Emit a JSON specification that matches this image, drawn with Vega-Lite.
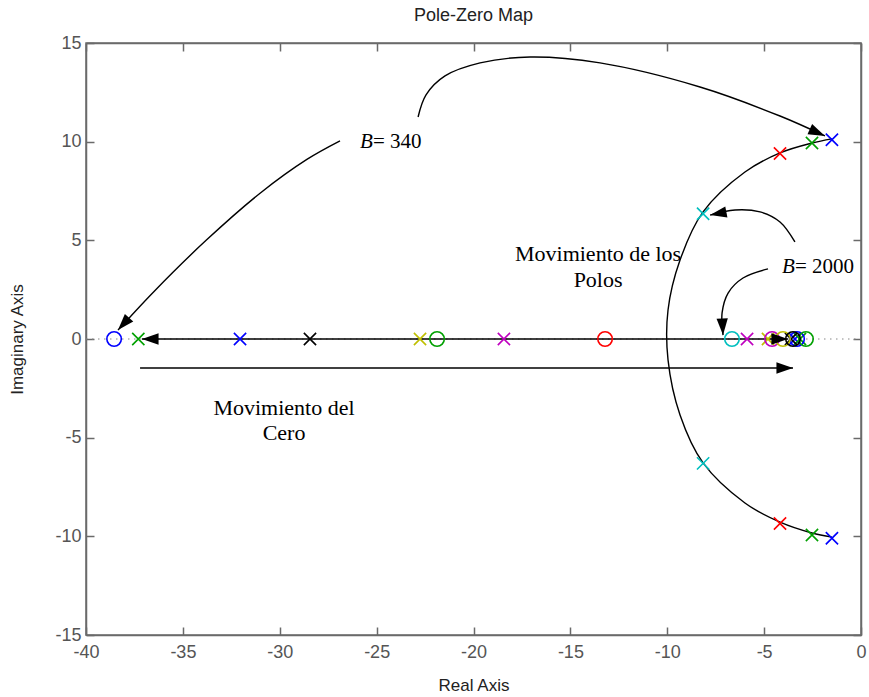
{
  "$schema": "https://vega.github.io/schema/vega-lite/v6.json",
  "width": 775,
  "height": 592,
  "autosize": "none",
  "padding": {"left": 86, "top": 43, "right": 8, "bottom": 62},
  "background": "white",
  "title": {"text": "Pole-Zero Map", "font": "Liberation Sans", "fontSize": 18, "fontWeight": "normal", "color": "#222", "anchor": "middle", "offset": 9},
  "config": {
    "view": {"stroke": "#6a6a6a", "strokeWidth": 1.5},
    "axis": {
      "domainColor": "#6a6a6a", "domainWidth": 1.5, "tickColor": "#6a6a6a", "tickWidth": 1.5, "tickSize": -8,
      "labelFont": "Liberation Sans", "labelFontSize": 18, "labelColor": "#555",
      "titleFont": "Liberation Sans", "titleFontSize": 17, "titleFontWeight": "normal", "titleColor": "#222",
      "grid": false, "labelFlush": false, "labelOverlap": false, "labelExpr": "'' + datum.value"
    }
  },
  "datasets": {
    "markers": [
      {"re": -1.5, "im": 10.1, "kind": "pole", "c": "blue"},
      {"re": -1.5, "im": -10.1, "kind": "pole", "c": "blue"},
      {"re": -32.05, "im": 0, "kind": "pole", "c": "blue"},
      {"re": -3.41, "im": 0, "kind": "pole", "c": "blue"},
      {"re": -2.53, "im": 9.93, "kind": "pole", "c": "green"},
      {"re": -2.53, "im": -9.93, "kind": "pole", "c": "green"},
      {"re": -37.3, "im": 0, "kind": "pole", "c": "green"},
      {"re": -3.15, "im": 0, "kind": "pole", "c": "green"},
      {"re": -4.18, "im": 9.4, "kind": "pole", "c": "red"},
      {"re": -4.18, "im": -9.35, "kind": "pole", "c": "red"},
      {"re": -8.15, "im": 6.35, "kind": "pole", "c": "cyan"},
      {"re": -8.15, "im": -6.3, "kind": "pole", "c": "cyan"},
      {"re": -28.44, "im": 0, "kind": "pole", "c": "black"},
      {"re": -3.61, "im": 0, "kind": "pole", "c": "black"},
      {"re": -22.76, "im": 0, "kind": "pole", "c": "yellow"},
      {"re": -4.8, "im": 0, "kind": "pole", "c": "yellow"},
      {"re": -18.43, "im": 0, "kind": "pole", "c": "magenta"},
      {"re": -5.88, "im": 0, "kind": "pole", "c": "magenta"},
      {"re": -38.55, "im": 0, "kind": "zero", "c": "blue"},
      {"re": -3.3, "im": 0, "kind": "zero", "c": "blue"},
      {"re": -21.88, "im": 0, "kind": "zero", "c": "green"},
      {"re": -2.84, "im": 0, "kind": "zero", "c": "green"},
      {"re": -13.21, "im": 0, "kind": "zero", "c": "red"},
      {"re": -6.66, "im": 0, "kind": "zero", "c": "cyan"},
      {"re": -4.59, "im": 0, "kind": "zero", "c": "magenta"},
      {"re": -4.03, "im": 0, "kind": "zero", "c": "yellow"},
      {"re": -3.51, "im": 0, "kind": "zero", "c": "black"}
    ],
    "curves": [
      {"id": "a", "i": 0, "x": -22.86, "y": 11.25},
      {"id": "a", "i": 1, "x": -22.45, "y": 12.37},
      {"id": "a", "i": 2, "x": -21.47, "y": 13.33},
      {"id": "a", "i": 3, "x": -19.66, "y": 13.99},
      {"id": "a", "i": 4, "x": -17.08, "y": 14.29},
      {"id": "a", "i": 5, "x": -13.47, "y": 13.99},
      {"id": "a", "i": 6, "x": -8.31, "y": 12.77},
      {"id": "a", "i": 7, "x": -4.18, "y": 11.3},
      {"id": "a", "i": 8, "x": -1.86, "y": 10.29},
      {"id": "b", "i": 0, "x": -26.89, "y": 10.04},
      {"id": "b", "i": 1, "x": -28.6, "y": 9.1},
      {"id": "b", "i": 2, "x": -31.0, "y": 7.4},
      {"id": "b", "i": 3, "x": -33.8, "y": 5.0},
      {"id": "b", "i": 4, "x": -36.5, "y": 2.4},
      {"id": "b", "i": 5, "x": -38.35, "y": 0.45},
      {"id": "c", "i": 0, "x": -1.5, "y": 10.14},
      {"id": "c", "i": 1, "x": -2.53, "y": 9.93},
      {"id": "c", "i": 2, "x": -4.18, "y": 9.43},
      {"id": "c", "i": 3, "x": -5.99, "y": 8.46},
      {"id": "c", "i": 4, "x": -8.15, "y": 6.44},
      {"id": "c", "i": 5, "x": -9.34, "y": 4.0},
      {"id": "c", "i": 6, "x": -9.96, "y": 1.47},
      {"id": "c", "i": 7, "x": -9.96, "y": -1.06},
      {"id": "c", "i": 8, "x": -9.34, "y": -3.85},
      {"id": "c", "i": 9, "x": -8.15, "y": -6.28},
      {"id": "c", "i": 10, "x": -5.99, "y": -8.31},
      {"id": "c", "i": 11, "x": -4.18, "y": -9.28},
      {"id": "c", "i": 12, "x": -2.53, "y": -9.83},
      {"id": "c", "i": 13, "x": -1.5, "y": -10.04},
      {"id": "d", "i": 0, "x": -3.41, "y": 4.92},
      {"id": "d", "i": 1, "x": -4.18, "y": 5.93},
      {"id": "d", "i": 2, "x": -5.21, "y": 6.44},
      {"id": "d", "i": 3, "x": -6.5, "y": 6.54},
      {"id": "d", "i": 4, "x": -7.79, "y": 6.28},
      {"id": "e", "i": 0, "x": -4.8, "y": 3.55},
      {"id": "e", "i": 1, "x": -6.09, "y": 3.09},
      {"id": "e", "i": 2, "x": -6.86, "y": 2.33},
      {"id": "e", "i": 3, "x": -7.17, "y": 1.32},
      {"id": "e", "i": 4, "x": -7.12, "y": 0.2},
      {"id": "f", "i": 0, "x": -37.11, "y": 0},
      {"id": "f", "i": 1, "x": -3.77, "y": 0},
      {"id": "g", "i": 0, "x": -37.21, "y": -1.47},
      {"id": "g", "i": 1, "x": -3.51, "y": -1.47}
    ],
    "heads": [
      {"x": -1.86, "y": 10.29, "ang": 114},
      {"x": -38.35, "y": 0.45, "ang": 222},
      {"x": -7.79, "y": 6.28, "ang": 259},
      {"x": -7.12, "y": 0.2, "ang": 177},
      {"x": -37.11, "y": 0, "ang": 270},
      {"x": -3.77, "y": 0, "ang": 90},
      {"x": -3.51, "y": -1.47, "ang": 90}
    ],
    "labels": [
      {"x": -29.78, "y": -3.5, "t": "Movimiento del"},
      {"x": -29.78, "y": -4.76, "t": "Cero"},
      {"x": -13.57, "y": 4.31, "t": "Movimiento de los"},
      {"x": -13.57, "y": 2.99, "t": "Polos"}
    ],
    "bvals": [
      {"x": -25.19, "y": 9.98, "t": "= 340"},
      {"x": -3.41, "y": 3.65, "t": "= 2000"}
    ]
  },
  "layer": [
    {
      "layer": [
        {
          "data": {"values": [{}]},
          "mark": {"type": "rule", "color": "#888", "strokeWidth": 1.2, "strokeDash": [1.5, 4.5]},
          "encoding": {
            "y": {"datum": 0, "type": "quantitative", "scale": {"domain": [-15, 15], "nice": false, "zero": false}, "axis": {"title": "Imaginary Axis", "values": [-15, -10, -5, 0, 5, 10, 15], "labelPadding": 13, "titlePadding": 28}},
            "x": {"datum": -40, "type": "quantitative", "scale": {"domain": [-40, 0], "nice": false, "zero": false}, "axis": {"title": "Real Axis", "values": [-40, -35, -30, -25, -20, -15, -10, -5, 0], "labelPadding": 16, "titlePadding": 16}},
            "x2": {"datum": 0}
          }
        },
        {
          "data": {"name": "curves"},
          "mark": {"type": "line", "color": "black", "strokeWidth": 1.4, "interpolate": "catmull-rom"},
          "encoding": {
            "x": {"field": "x", "type": "quantitative"},
            "y": {"field": "y", "type": "quantitative"},
            "detail": {"field": "id"},
            "order": {"field": "i", "type": "quantitative"}
          }
        },
        {
          "data": {"name": "markers"},
          "transform": [{"filter": "datum.kind == 'pole'"}],
          "mark": {"type": "point", "shape": "M-1,-1L1,1M-1,1L1,-1", "filled": false, "size": 150, "strokeWidth": 1.6, "opacity": 1},
          "encoding": {
            "x": {"field": "re", "type": "quantitative"},
            "y": {"field": "im", "type": "quantitative"},
            "color": {"field": "c", "type": "nominal", "legend": null, "scale": {"domain": ["blue", "green", "red", "cyan", "magenta", "yellow", "black"], "range": ["#0000ff", "#00a000", "#ff0000", "#00bfbf", "#bf00bf", "#bfbf00", "#000000"]}}
          }
        },
        {
          "data": {"name": "markers"},
          "transform": [{"filter": "datum.kind == 'zero'"}],
          "mark": {"type": "point", "shape": "circle", "filled": false, "size": 210, "strokeWidth": 1.6, "opacity": 1},
          "encoding": {
            "x": {"field": "re", "type": "quantitative"},
            "y": {"field": "im", "type": "quantitative"},
            "color": {"field": "c", "type": "nominal", "legend": null}
          }
        },
        {
          "data": {"name": "heads"},
          "mark": {"type": "point", "shape": "M0,0L-0.34,1L0.34,1Z", "filled": true, "color": "black", "size": 1100, "opacity": 1},
          "encoding": {
            "x": {"field": "x", "type": "quantitative"},
            "y": {"field": "y", "type": "quantitative"},
            "angle": {"field": "ang", "type": "quantitative", "scale": null}
          }
        },
        {
          "data": {"name": "labels"},
          "mark": {"type": "text", "font": "Liberation Serif", "fontSize": 22, "color": "black", "align": "center", "baseline": "middle"},
          "encoding": {
            "x": {"field": "x", "type": "quantitative"},
            "y": {"field": "y", "type": "quantitative"},
            "text": {"field": "t"}
          }
        },
        {
          "data": {"name": "bvals"},
          "mark": {"type": "text", "font": "Liberation Serif", "fontSize": 21, "color": "black", "align": "left", "baseline": "middle"},
          "encoding": {
            "x": {"field": "x", "type": "quantitative"},
            "y": {"field": "y", "type": "quantitative"},
            "text": {"field": "t"}
          }
        },
        {
          "data": {"name": "bvals"},
          "mark": {"type": "text", "font": "Liberation Serif", "fontSize": 21, "fontStyle": "italic", "color": "black", "align": "right", "baseline": "middle", "text": "B"},
          "encoding": {
            "x": {"field": "x", "type": "quantitative"},
            "y": {"field": "y", "type": "quantitative"}
          }
        }
      ]
    },
    {
      "data": {"values": [{}]},
      "mark": {"type": "rule", "color": "#888", "strokeWidth": 0, "opacity": 0},
      "encoding": {
        "y": {"datum": 0, "type": "quantitative", "axis": {"orient": "right", "labels": false, "title": null, "values": [-15, -10, -5, 0, 5, 10, 15]}},
        "x": {"datum": -40, "type": "quantitative", "axis": {"orient": "top", "labels": false, "title": null, "values": [-40, -35, -30, -25, -20, -15, -10, -5, 0]}},
        "x2": {"datum": 0}
      }
    }
  ],
  "resolve": {"axis": {"x": "independent", "y": "independent"}}
}
